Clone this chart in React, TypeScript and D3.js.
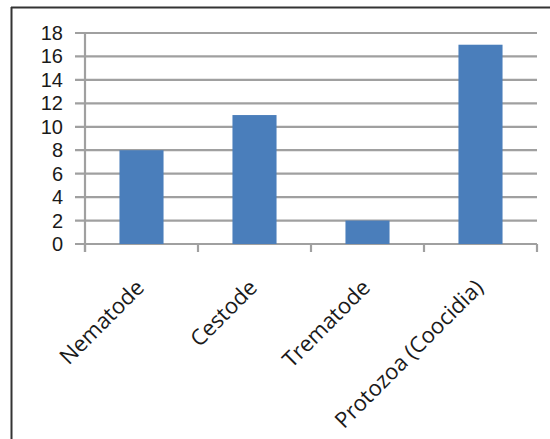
import React from "react";
import * as d3 from "d3";

const categories = ["Nematode", "Cestode", "Trematode", "Protozoa (Coocidia)"];
const values = [8, 11, 2, 17];
const yTicks = [0, 2, 4, 6, 8, 10, 12, 14, 16, 18];

export default function App() {
  const W = 550;
  const H = 439;
  const left = 85;
  const right = 537;
  const top = 33;
  const bottom = 244;

  const x = d3.scaleBand<string>().domain(categories).range([left, right]).paddingInner(0.61).paddingOuter(0.305);
  const band = d3.scaleBand<string>().domain(categories).range([left, right]);
  const y = d3.scaleLinear().domain([0, 18]).range([bottom, top]);

  const font = "'Open Sans', 'Liberation Sans', sans-serif";
  const yFont = "'Liberation Sans', Arial, sans-serif";
  const grid = "#a0a0a0";

  return (
    <svg width={W} height={H} style={{ position: "absolute", left: 0, top: 0 }}>
      <rect width={W} height={H} fill="#fff" />
      {/* outer border */}
      <line x1={11.5} y1={7} x2={11.5} y2={439} stroke="#333" strokeWidth={2} />
      <line x1={11} y1={7.5} x2={550} y2={7.5} stroke="#333" strokeWidth={2} />

      {/* gridlines */}
      {yTicks.map((t) => (
        <line key={t} x1={75} x2={right} y1={y(t)} y2={y(t)} stroke={grid} strokeWidth={2.2} />
      ))}
      {/* y axis */}
      <line x1={left} x2={left} y1={top} y2={bottom + 8} stroke={grid} strokeWidth={2.2} />
      {/* x category ticks */}
      {categories.map((c) => (
        <line key={c} x1={band(c)!} x2={band(c)!} y1={bottom} y2={bottom + 8} stroke={grid} strokeWidth={2.2} />
      ))}
      <line x1={right} x2={right} y1={bottom} y2={bottom + 8} stroke={grid} strokeWidth={2.2} />

      {/* bars */}
      {categories.map((c, i) => (
        <rect key={c} x={x(c)!} y={y(values[i])} width={x.bandwidth()} height={bottom - y(values[i])} fill="#4a7ebb" />
      ))}

      {/* y labels */}
      {yTicks.map((t) => (
        <text key={t} x={63} y={y(t)} dy="0.35em" textAnchor="end" fontFamily={yFont} fontSize={20} fill="#1a1a1a">
          {t}
        </text>
      ))}

      {/* x labels */}
      {categories.map((c) => {
        const cx = band(c)! + band.bandwidth() / 2 + 4;
        const cy = bottom + 45;
        return (
          <text key={c} x={cx} y={cy} textAnchor="end" transform={`rotate(-45 ${cx} ${cy})`} fontFamily={font} fontSize={22} fill="#1a1a1a">
            {c}
          </text>
        );
      })}
    </svg>
  );
}
